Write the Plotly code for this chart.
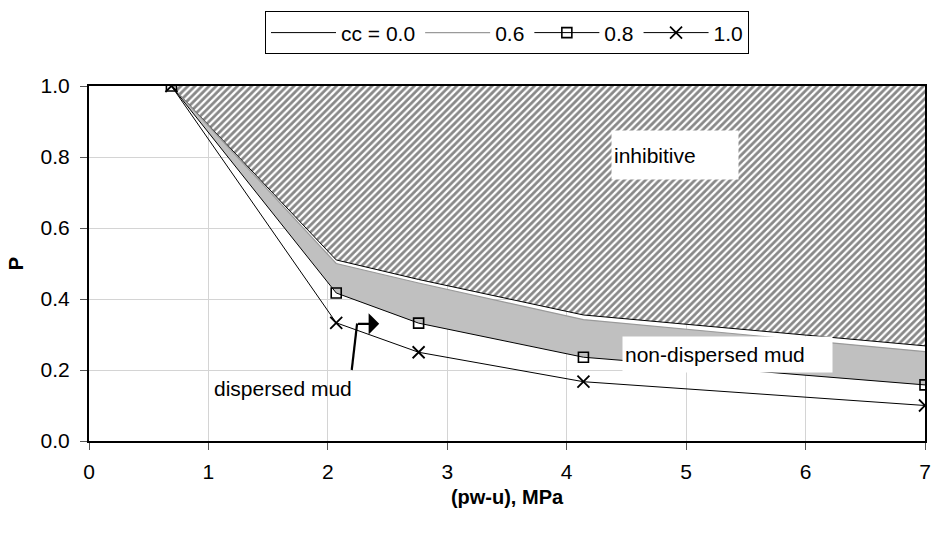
import plotly.graph_objects as go

# Pressure difference (pw-u), MPa
pw_u = [0.69, 2.07, 2.76, 4.14, 7.0]

# P for each membrane coefficient cc
p_cc00 = [1.0, 0.51, 0.455, 0.355, 0.268]
p_cc06 = [1.0, 0.50, 0.445, 0.342, 0.252]
p_cc08 = [1.0, 0.417, 0.332, 0.236, 0.158]
p_cc10 = [1.0, 0.333, 0.25, 0.167, 0.10]

# upper edge of the inhibitive zone
p_top = [1.0, 1.0]
x_top = [pw_u[0], pw_u[-1]]

x_ticks = [0, 1, 2, 3, 4, 5, 6, 7]
y_ticks = [0.0, 0.2, 0.4, 0.6, 0.8, 1.0]

FONT = "Liberation Sans, Arial, sans-serif"

fig = go.Figure()

# hatched inhibitive region (above cc = 0.0)
fig.add_trace(go.Scatter(x=x_top, y=p_top, mode="lines", line=dict(width=0),
                         showlegend=False, hoverinfo="skip"))
fig.add_trace(go.Scatter(x=pw_u, y=p_cc00, mode="lines", line=dict(width=0),
                         fill="tonexty", fillcolor="white",
                         fillpattern=dict(shape="/", fgcolor="#111111", bgcolor="white",
                                          size=5, solidity=0.55),
                         showlegend=False, hoverinfo="skip"))

# grey non-dispersed band between cc = 0.6 and cc = 0.8
fig.add_trace(go.Scatter(x=pw_u, y=p_cc06, mode="lines", line=dict(width=0),
                         showlegend=False, hoverinfo="skip"))
fig.add_trace(go.Scatter(x=pw_u, y=p_cc08, mode="lines", line=dict(width=0),
                         fill="tonexty", fillcolor="#c0c0c0",
                         showlegend=False, hoverinfo="skip"))

# curves
fig.add_trace(go.Scatter(x=pw_u, y=p_cc00, mode="lines", name="cc = 0.0",
                         line=dict(color="black", width=1)))
fig.add_trace(go.Scatter(x=pw_u, y=p_cc06, mode="lines", name="0.6",
                         line=dict(color="#9a9a9a", width=1.2)))
fig.add_trace(go.Scatter(x=pw_u, y=p_cc08, mode="lines+markers", name="0.8",
                         line=dict(color="black", width=1),
                         marker=dict(symbol="square-open", size=10, color="black",
                                     line=dict(width=1.6, color="black"))))
fig.add_trace(go.Scatter(x=pw_u, y=p_cc10, mode="lines+markers", name="1.0",
                         line=dict(color="black", width=1),
                         marker=dict(symbol="x-thin", size=12, color="black",
                                     line=dict(width=1.8, color="black"))))

annotations = [
    dict(x=4.37, y=0.806, xref="x", yref="y", text="inhibitive", showarrow=False,
         xanchor="left", yanchor="middle", align="left", width=122, height=44,
         bgcolor="white", borderpad=2, font=dict(family=FONT, size=21, color="black")),
    dict(x=4.46, y=0.244, xref="x", yref="y", text="non-dispersed mud", showarrow=False,
         xanchor="left", yanchor="middle", align="left", width=205, height=31,
         bgcolor="white", borderpad=2, font=dict(family=FONT, size=21, color="black")),
    dict(x=1.03, y=0.149, xref="x", yref="y", text="dispersed mud", showarrow=False,
         xanchor="left", yanchor="middle", align="left",
         font=dict(family=FONT, size=21, color="black")),
    # arrow head of the pointer from "dispersed mud"
    dict(x=2.43, y=0.33, xref="x", yref="y", ax=2.24, ay=0.33, axref="x", ayref="y",
         text="", showarrow=True, arrowhead=1, arrowsize=1.6, arrowwidth=2.2,
         arrowcolor="black", standoff=0),
]

shapes = [
    dict(type="line", xref="x", yref="y", x0=2.20, y0=0.20, x1=2.245, y1=0.331,
         line=dict(color="black", width=2.2)),
]

axis_common = dict(
    showline=True, mirror=True, linecolor="black", linewidth=2,
    showgrid=True, gridcolor="#d4d4d4", gridwidth=1, zeroline=False,
    ticks="outside", ticklen=7, tickcolor="#555", tickwidth=1,
    tickfont=dict(family=FONT, size=21, color="black"),
)

fig.update_layout(
    width=937, height=538,
    margin=dict(l=89, r=6, t=86, b=97),
    paper_bgcolor="white", plot_bgcolor="white",
    font=dict(family=FONT, size=21, color="black"),
    xaxis=dict(range=[0, 7], tickvals=x_ticks, ticklabelstandoff=4,
               title=dict(text="<b>(pw-u), MPa</b>", standoff=8,
                          font=dict(family=FONT, size=20)),
               **axis_common),
    yaxis=dict(range=[0, 1.0], tickvals=y_ticks, tickformat=".1f", ticklabelstandoff=6,
               title=dict(text="<b>P</b>", standoff=12,
                          font=dict(family=FONT, size=20)),
               **axis_common),
    legend=dict(orientation="h", x=0.5, xanchor="center", y=1.21, yanchor="top",
                bordercolor="black", borderwidth=1, bgcolor="white",
                font=dict(family=FONT, size=21, color="black"),
                itemwidth=65, traceorder="normal", tracegroupgap=0),
    annotations=annotations,
    shapes=shapes,
    showlegend=True,
)

fig.write_html("out.html")
